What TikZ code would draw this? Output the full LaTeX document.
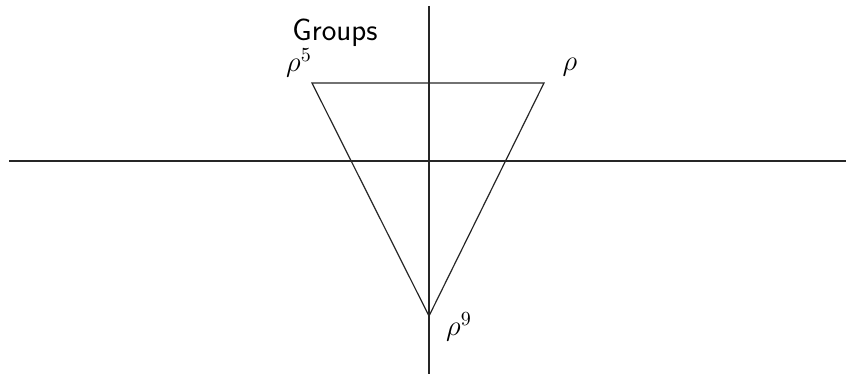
\documentclass[tikz,border=0pt]{standalone}
\begin{document}
\begin{tikzpicture}[x=0.5pt,y=-0.5pt,
  axis/.style={line width=0.6pt,black!85},
  tri/.style={line width=0.6pt,black!85},
  lbl/.style={inner sep=0pt,font=\fontsize{14.8}{17}\selectfont}]
\useasboundingbox (0,0) rectangle (846,374);
\coordinate (hl) at (9,161);
\coordinate (hr) at (846,161);
\coordinate (vt) at (429,6);
\coordinate (vb) at (429,374);
\coordinate (a) at (312,83);
\coordinate (b) at (544,83);
\coordinate (c) at (429,316);
\draw[axis] (hl) -- (hr);
\draw[axis] (vt) -- (vb);
\draw[tri] (a) -- (b) -- (c) -- cycle;
\node[inner sep=0pt,font=\fontsize{15.5}{18}\selectfont\sffamily] (title) at (335,33) {Groups};
\node[lbl] (la) at (299,63) {$\rho^5$};
\node[lbl] (lb) at (570,67) {$\rho$};
\node[lbl] (lc) at (459,327) {$\rho^9$};
\end{tikzpicture}
\end{document}
